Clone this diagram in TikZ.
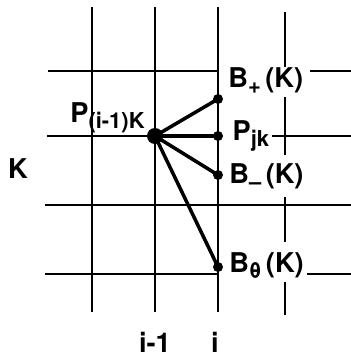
\documentclass[tikz,border=0pt]{standalone}
\usepackage{fontspec}
\setmainfont{TeX Gyre Heros}
\usetikzlibrary{positioning}
\tikzset{
  gridline/.style={
    line width=1.4pt
  },
  fanline/.style={
    line width=2pt
  },
  meshdot/.style={
    circle,
    fill=black,
    inner sep=0pt,
    minimum size=0.2cm
  },
  basedot/.style={
    meshdot,
    minimum size=0.32cm
  },
  gridlabel/.style={
    font=\fontsize{15.5}{18}\selectfont\bfseries,
    inner sep=0pt
  }
}
\newcommand{\lowsub}[1]{\raisebox{-0.45ex}{\fontsize{12.5}{13}\selectfont #1}}

\begin{document}
\begin{tikzpicture}[x=0.02cm, y=-0.02cm]
    \useasboundingbox (0,0) rectangle (351,356);

    % mesh
    \foreach \xx in {92,155,218}
        \draw[gridline] (\xx,7) -- (\xx,312);
    \foreach \ya/\yb in {12/67, 97/155, 197/242, 282/315}
        \draw[gridline] (285,\ya) -- (285,\yb);
    \draw[gridline] (48,71) -- (218,71);
    \draw[gridline] (310,71) -- (351,71);
    \draw[gridline] (47,136) -- (218,136);
    \draw[gridline] (272,136) -- (351,136);
    \draw[gridline] (45,205) -- (351,205);
    \draw[gridline] (45,274) -- (218,274);
    \draw[gridline] (307,274) -- (351,274);

    % points
    \node[basedot] (pc) at (155,136) {};
    \node[meshdot] (bp) at (218,99) {};
    \node[meshdot] (pj) at (218,136) {};
    \node[meshdot] (bm) at (218,175) {};
    \node[meshdot] (bt) at (218,267) {};

    \draw[fanline] (pc.center) -- (bp.center);
    \draw[fanline] (pc.center) -- (pj.center);
    \draw[fanline] (pc.center) -- (bm.center);
    \draw[fanline] (pc.center) -- (bt.center);

    % labels
    \node[gridlabel, anchor=base west] (lpc) at (70,122) {P\lowsub{(i-1)K}};
    \node[gridlabel, anchor=base west] (lbp) at (228,87) {B\lowsub{+}\,(K)};
    \node[gridlabel, right=0.18cm of pj] (lpj) {P\lowsub{jk}};
    \node[gridlabel, anchor=base west] (lbm) at (229,183) {B\lowsub{–}\,(K)};
    \node[gridlabel, anchor=base west] (lbt) at (229,272) {B\lowsub{θ}\,(K)};
    \node[gridlabel, anchor=base] (lk) at (18,178) {K};
    \node[gridlabel, anchor=base] (lim) at (155,352) {i-1};
    \node[gridlabel, anchor=base] (li) at (215,352) {i};
\end{tikzpicture}
\end{document}
